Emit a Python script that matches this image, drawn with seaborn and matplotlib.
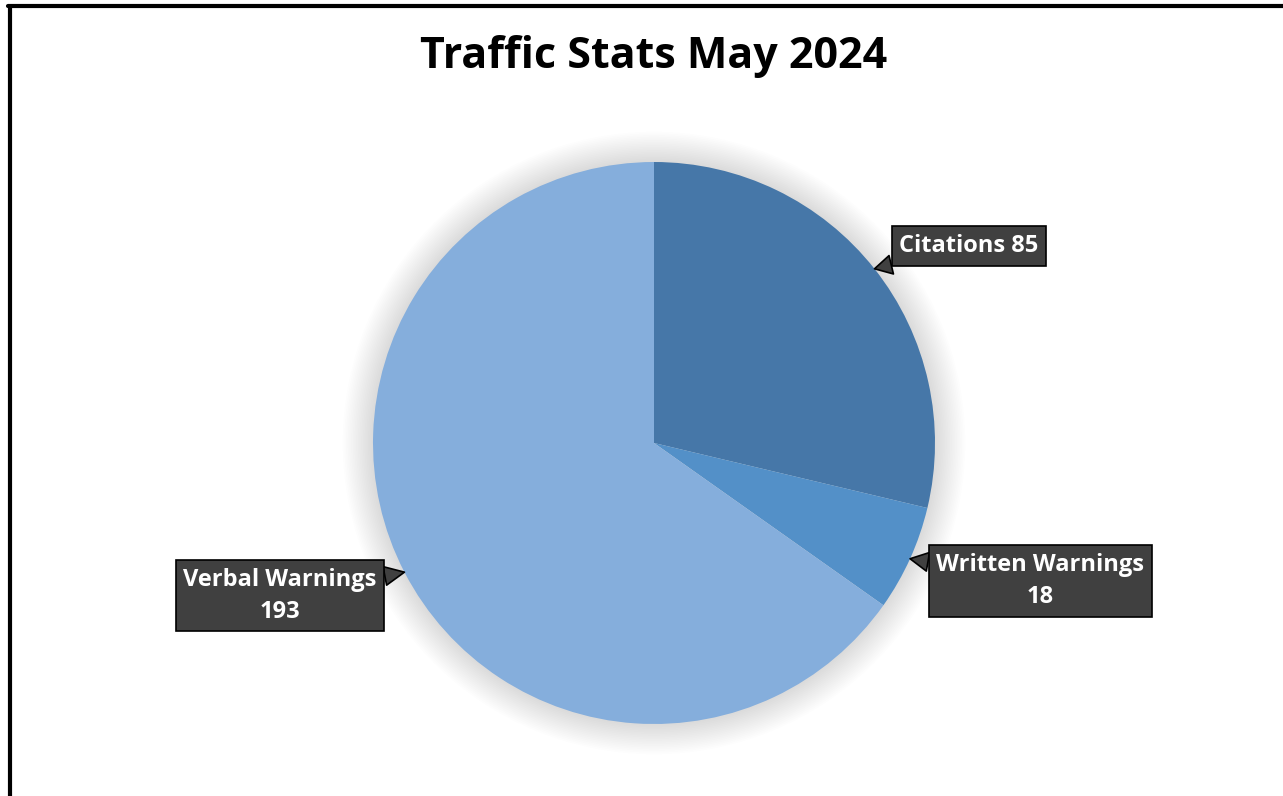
import matplotlib
matplotlib.use("Agg")
import matplotlib.pyplot as plt
from matplotlib.lines import Line2D
from matplotlib.patches import Circle
import numpy as np
import seaborn as sns

# data
categories = ["Citations", "Written Warnings", "Verbal Warnings"]
counts = [85, 18, 193]
label_texts = ["Citations 85", "Written Warnings\n18", "Verbal Warnings\n193"]
colors = ["#4677A8", "#5390C8", "#85AEDC"]
title = "Traffic Stats May 2024"

sns.set_theme(style="white")
plt.rcParams["font.family"] = ["Open Sans", "DejaVu Sans"]

W, H = 1283, 796
R = 281.0
cx, cy = 654, 443

fig = plt.figure(figsize=(W / 100, H / 100), dpi=100)
fig.patch.set_facecolor("white")
ax = fig.add_axes([0, 0, 1, 1])
ax.axis("off")

# soft shadow around the pie
for k in range(1, 19):
    ax.add_patch(Circle((0, 0), 1 + k * 0.006, color="black", alpha=0.009, lw=0, zorder=0))

wedges, _ = ax.pie(counts, colors=colors, startangle=90, counterclock=False,
                   radius=1, wedgeprops=dict(linewidth=0), frame=False)
ax.set_xlim(-cx / R, (W - cx) / R)
ax.set_ylim(-(H - cy) / R, cy / R)
ax.set_aspect("auto")

# callout boxes
box_pos = [(1.121, 0.701), (1.374, -0.491), (-1.331, -0.544)]
for w, txt, pos in zip(wedges, label_texts, box_pos):
    ang = np.deg2rad((w.theta1 + w.theta2) / 2)
    tip = (np.cos(ang), np.sin(ang))
    ax.annotate(txt, xy=tip, xytext=pos, ha="center", va="center",
                color="white", fontsize=17, fontweight="bold", linespacing=1.45,
                bbox=dict(boxstyle="square,pad=0.32", fc="#404040", ec="black", lw=1.2),
                arrowprops=dict(arrowstyle="wedge,tail_width=0.8,shrink_factor=0.5",
                                fc="#404040", ec="black", lw=1.2,
                                shrinkA=0, shrinkB=0),
                zorder=5)

fig.text(cx / W, 1 - 56 / H, title, ha="center", va="center",
         fontsize=31, fontweight="bold", color="black")

# outer border (top and left edges visible)
fig.add_artist(Line2D([8 / W, 1], [1 - 6 / H, 1 - 6 / H], color="black", lw=3, transform=fig.transFigure))
fig.add_artist(Line2D([10 / W, 10 / W], [0, 1 - 6 / H], color="black", lw=3, transform=fig.transFigure))

fig.savefig("out.png", dpi=100)
